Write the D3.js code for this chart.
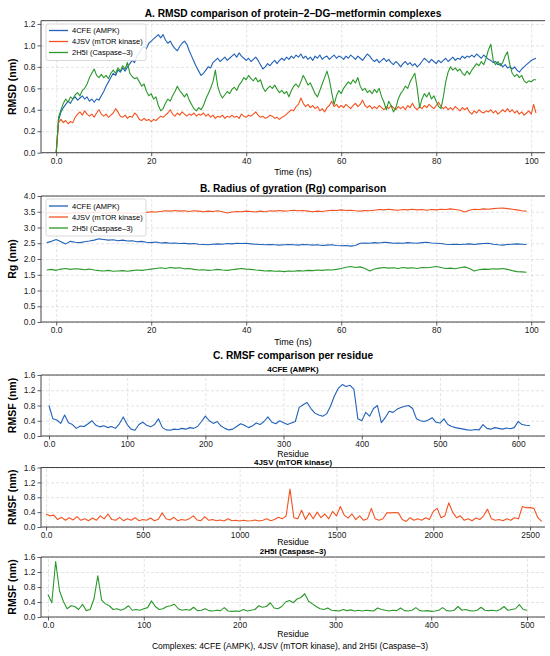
<!DOCTYPE html>
<html>
<head>
<meta charset="utf-8">
<script src="https://cdn.jsdelivr.net/npm/d3@7"></script>
<style>
  body { margin: 0; background: #fff; }
  svg { font-family: "Liberation Sans", Arial, sans-serif; }
  .grid line { stroke: #d2d2d2; stroke-width: 0.6; stroke-dasharray: 3,2; }
  .grid .domain { display: none; }
  .axis .domain { display: none; }
  .axis line { stroke: #333; stroke-width: 0.8; }
  .axis text { fill: #222; }
</style>
</head>
<body>
<div id="chart"></div>
<script>
// series names and colours
var complexNames = ["4CFE (AMPK)", "4JSV (mTOR kinase)", "2H5I (Caspase\u20133)"];
var complexColors = ["#2161b8", "#f4521f", "#2b982b"];

// A. RMSD (nm), one value every 0.5 ns from 0 to 101 ns
var rmsdStep = 0.5;
var rmsdAmpk = [
  0.00,0.30,0.38,0.42,0.45,0.48,0.46,0.50,0.52,0.49,
  0.51,0.53,0.50,0.52,0.48,0.50,0.47,0.50,0.49,0.53,
  0.57,0.62,0.66,0.70,0.74,0.72,0.77,0.75,0.79,0.76,
  0.80,0.83,0.86,0.84,0.90,0.93,0.97,0.99,0.97,1.02,
  1.04,1.06,1.08,1.10,1.07,1.10,1.05,1.02,1.04,1.00,
  0.97,0.95,0.99,1.02,1.04,1.01,0.95,0.90,0.85,0.80,
  0.76,0.72,0.74,0.77,0.80,0.79,0.84,0.86,0.88,0.85,
  0.87,0.89,0.86,0.88,0.90,0.92,0.89,0.93,0.90,0.88,
  0.86,0.88,0.85,0.87,0.89,0.86,0.82,0.78,0.80,0.83,
  0.81,0.84,0.86,0.83,0.86,0.88,0.86,0.89,0.87,0.90,
  0.88,0.91,0.89,0.92,0.88,0.90,0.87,0.89,0.86,0.90,
  0.88,0.91,0.87,0.89,0.90,0.87,0.89,0.91,0.88,0.90,
  0.89,0.87,0.90,0.88,0.91,0.89,0.87,0.90,0.88,0.86,
  0.89,0.92,0.90,0.87,0.85,0.87,0.84,0.86,0.88,0.85,
  0.87,0.84,0.82,0.85,0.83,0.80,0.83,0.85,0.82,0.84,
  0.81,0.83,0.80,0.82,0.85,0.88,0.86,0.84,0.87,0.85,
  0.83,0.86,0.84,0.86,0.88,0.85,0.87,0.89,0.86,0.88,
  0.87,0.90,0.88,0.90,0.89,0.91,0.89,0.92,0.90,0.88,
  0.91,0.89,0.87,0.86,0.84,0.85,0.82,0.83,0.80,0.82,
  0.79,0.80,0.78,0.80,0.77,0.75,0.78,0.80,0.82,0.84,
  0.86,0.87,0.88
];
var rmsdMtor = [
  0.00,0.28,0.31,0.28,0.30,0.27,0.29,0.28,0.33,0.36,
  0.38,0.35,0.39,0.36,0.34,0.36,0.33,0.37,0.40,0.36,
  0.34,0.36,0.33,0.35,0.37,0.41,0.38,0.34,0.33,0.35,
  0.32,0.34,0.33,0.37,0.35,0.31,0.30,0.32,0.30,0.31,
  0.29,0.31,0.30,0.32,0.34,0.33,0.35,0.37,0.40,0.36,
  0.34,0.37,0.35,0.38,0.36,0.34,0.36,0.35,0.37,0.34,
  0.36,0.35,0.37,0.34,0.36,0.33,0.35,0.32,0.34,0.33,
  0.35,0.32,0.34,0.33,0.35,0.33,0.34,0.32,0.36,0.34,
  0.33,0.35,0.34,0.36,0.38,0.35,0.33,0.34,0.32,0.33,
  0.35,0.34,0.32,0.33,0.31,0.33,0.34,0.36,0.38,0.40,
  0.39,0.43,0.45,0.51,0.46,0.43,0.45,0.42,0.44,0.41,
  0.43,0.39,0.41,0.38,0.42,0.44,0.48,0.43,0.45,0.42,
  0.44,0.42,0.45,0.43,0.41,0.44,0.46,0.43,0.45,0.49,
  0.44,0.42,0.44,0.41,0.43,0.41,0.44,0.42,0.40,0.43,
  0.41,0.44,0.42,0.40,0.43,0.41,0.43,0.40,0.44,0.42,
  0.46,0.42,0.40,0.43,0.41,0.44,0.42,0.45,0.43,0.41,
  0.44,0.47,0.43,0.41,0.43,0.40,0.42,0.40,0.43,0.41,
  0.39,0.42,0.40,0.42,0.38,0.36,0.39,0.37,0.40,0.38,
  0.37,0.39,0.38,0.40,0.37,0.39,0.36,0.38,0.40,0.38,
  0.41,0.38,0.40,0.37,0.39,0.36,0.38,0.35,0.37,0.39,
  0.36,0.45,0.37
];
var rmsdCasp = [
  0.00,0.33,0.40,0.46,0.50,0.47,0.52,0.50,0.54,0.56,
  0.53,0.58,0.60,0.64,0.70,0.74,0.78,0.72,0.70,0.73,
  0.70,0.72,0.69,0.74,0.77,0.74,0.79,0.76,0.81,0.78,
  0.84,0.74,0.71,0.69,0.70,0.66,0.62,0.64,0.57,0.53,
  0.55,0.50,0.52,0.44,0.39,0.41,0.46,0.50,0.48,0.53,
  0.57,0.62,0.58,0.55,0.52,0.55,0.49,0.45,0.41,0.39,
  0.42,0.40,0.44,0.50,0.55,0.60,0.66,0.77,0.62,0.55,
  0.51,0.54,0.57,0.55,0.59,0.61,0.58,0.63,0.66,0.70,
  0.68,0.72,0.69,0.67,0.70,0.66,0.68,0.61,0.57,0.60,
  0.62,0.60,0.63,0.59,0.56,0.58,0.55,0.57,0.52,0.58,
  0.62,0.64,0.61,0.66,0.72,0.68,0.63,0.65,0.60,0.55,
  0.52,0.58,0.64,0.70,0.76,0.68,0.56,0.45,0.53,0.58,
  0.55,0.60,0.63,0.66,0.64,0.68,0.65,0.70,0.62,0.58,
  0.60,0.56,0.58,0.55,0.59,0.56,0.60,0.52,0.47,0.40,
  0.48,0.44,0.38,0.42,0.50,0.55,0.58,0.62,0.60,0.66,
  0.70,0.74,0.60,0.42,0.50,0.55,0.52,0.56,0.50,0.53,
  0.48,0.43,0.41,0.52,0.66,0.75,0.80,0.77,0.79,0.76,
  0.78,0.74,0.72,0.76,0.73,0.77,0.80,0.83,0.81,0.85,
  0.82,0.88,0.96,1.01,0.86,0.82,0.85,0.81,0.84,0.90,
  0.94,0.82,0.74,0.71,0.73,0.70,0.72,0.67,0.65,0.67,
  0.66,0.68,0.68
];

// B. Rg (nm), one value per ns from -2 to 99 ns
var rgStart = -2;
var rgAmpk = [
  2.52,2.56,2.62,2.55,2.48,2.56,2.53,2.52,2.55,2.57,
  2.60,2.64,2.62,2.60,2.61,2.58,2.60,2.57,2.58,2.55,
  2.56,2.53,2.52,2.54,2.51,2.52,2.50,2.51,2.49,2.50,
  2.48,2.49,2.47,2.46,2.45,2.47,2.48,2.47,2.49,2.48,
  2.50,2.49,2.50,2.48,2.47,2.46,2.45,2.46,2.45,2.44,
  2.45,2.46,2.45,2.44,2.46,2.45,2.44,2.45,2.43,2.44,
  2.45,2.43,2.42,2.43,2.41,2.43,2.50,2.51,2.50,2.52,
  2.51,2.53,2.52,2.50,2.51,2.50,2.52,2.51,2.50,2.52,
  2.53,2.51,2.50,2.49,2.47,2.46,2.47,2.46,2.47,2.48,
  2.46,2.48,2.49,2.50,2.47,2.45,2.44,2.46,2.47,2.48,
  2.47,2.46
];
var rgMtor = [
  3.46,3.48,3.45,3.47,3.44,3.46,3.48,3.45,3.47,3.46,
  3.48,3.47,3.45,3.47,3.46,3.48,3.46,3.47,3.45,3.43,
  3.45,3.48,3.50,3.49,3.51,3.53,3.52,3.54,3.52,3.53,
  3.51,3.53,3.52,3.50,3.52,3.51,3.53,3.50,3.46,3.49,
  3.51,3.50,3.52,3.51,3.49,3.52,3.50,3.53,3.52,3.54,
  3.52,3.53,3.55,3.53,3.54,3.52,3.50,3.52,3.51,3.53,
  3.55,3.54,3.56,3.54,3.55,3.53,3.52,3.54,3.53,3.55,
  3.57,3.56,3.58,3.56,3.55,3.57,3.56,3.58,3.56,3.57,
  3.55,3.57,3.56,3.58,3.57,3.59,3.57,3.55,3.49,3.55,
  3.58,3.57,3.59,3.58,3.60,3.61,3.62,3.60,3.58,3.56,
  3.53,3.52
];
var rgCasp = [
  1.65,1.67,1.64,1.68,1.70,1.67,1.69,1.68,1.66,1.68,
  1.65,1.63,1.62,1.64,1.61,1.62,1.63,1.61,1.63,1.65,
  1.64,1.66,1.68,1.70,1.72,1.70,1.73,1.71,1.72,1.69,
  1.70,1.67,1.65,1.66,1.64,1.65,1.67,1.65,1.64,1.66,
  1.68,1.70,1.68,1.67,1.65,1.64,1.62,1.63,1.61,1.62,
  1.60,1.62,1.61,1.63,1.62,1.64,1.63,1.65,1.64,1.66,
  1.65,1.67,1.70,1.74,1.76,1.73,1.75,1.70,1.62,1.68,
  1.71,1.73,1.71,1.72,1.70,1.73,1.71,1.72,1.70,1.73,
  1.72,1.74,1.76,1.73,1.70,1.71,1.69,1.72,1.75,1.70,
  1.62,1.66,1.68,1.67,1.69,1.68,1.70,1.67,1.63,1.60,
  1.59,1.58
];

// C. RMSF (nm) per residue
var ampkResStep = 5;
var rmsfAmpk = [
  0.80,0.45,0.42,0.33,0.55,0.35,0.30,0.20,0.26,0.25,
  0.32,0.40,0.28,0.24,0.27,0.22,0.25,0.20,0.32,0.50,
  0.30,0.18,0.15,0.30,0.36,0.28,0.24,0.30,0.45,0.22,
  0.16,0.15,0.18,0.17,0.20,0.18,0.22,0.20,0.25,0.38,
  0.52,0.40,0.33,0.38,0.26,0.20,0.16,0.18,0.25,0.32,
  0.28,0.22,0.26,0.34,0.30,0.38,0.50,0.36,0.32,0.40,
  0.35,0.30,0.34,0.38,0.75,0.82,0.88,0.72,0.60,0.55,
  0.52,0.58,0.78,1.05,1.25,1.35,1.30,1.33,1.22,0.45,
  0.40,0.62,0.52,0.72,0.80,0.35,0.48,0.65,0.62,0.70,
  0.75,0.78,0.80,0.72,0.45,0.40,0.38,0.42,0.48,0.36,
  0.34,0.45,0.30,0.25,0.22,0.20,0.18,0.16,0.15,0.17,
  0.16,0.30,0.20,0.18,0.22,0.20,0.18,0.21,0.19,0.22,
  0.38,0.30,0.28,0.27
];
var mtorResStep = 20;
var rmsfMtor = [
  0.35,0.30,0.32,0.20,0.26,0.18,0.25,0.19,0.28,0.18,
  0.22,0.17,0.24,0.18,0.30,0.22,0.35,0.20,0.18,0.26,
  0.17,0.22,0.18,0.25,0.17,0.20,0.18,0.24,0.17,0.21,
  0.38,0.22,0.19,0.26,0.17,0.20,0.18,0.22,0.30,0.19,
  0.17,0.28,0.18,0.20,0.17,0.19,0.16,0.22,0.17,0.18,
  0.16,0.18,0.16,0.17,0.19,0.16,0.18,0.22,0.17,0.20,
  0.26,0.22,0.30,1.02,0.25,0.22,0.45,0.20,0.38,0.22,
  0.40,0.25,0.35,0.22,0.42,0.30,0.55,0.32,0.24,0.35,
  0.20,0.30,0.18,0.22,0.50,0.22,0.18,0.22,0.38,0.38,
  0.39,0.38,0.20,0.15,0.25,0.18,0.22,0.18,0.25,0.20,
  0.42,0.50,0.25,0.30,0.65,0.40,0.25,0.30,0.18,0.22,
  0.17,0.24,0.20,0.30,0.48,0.22,0.18,0.20,0.17,0.22,
  0.18,0.25,0.22,0.55,0.52,0.52,0.50,0.25,0.15
];
var caspResStep = 4;
var rmsfCasp = [
  0.60,0.38,1.48,0.70,0.42,0.22,0.30,0.28,0.20,0.34,
  0.17,0.20,0.48,1.10,0.45,0.35,0.30,0.20,0.22,0.18,
  0.22,0.30,0.18,0.20,0.18,0.22,0.25,0.43,0.28,0.20,
  0.22,0.28,0.30,0.34,0.22,0.18,0.20,0.18,0.26,0.17,
  0.18,0.22,0.17,0.16,0.18,0.17,0.25,0.16,0.15,0.16,
  0.15,0.20,0.16,0.18,0.20,0.30,0.26,0.28,0.38,0.24,
  0.22,0.28,0.40,0.44,0.38,0.48,0.52,0.62,0.42,0.35,
  0.28,0.22,0.20,0.24,0.18,0.17,0.16,0.20,0.17,0.19,
  0.16,0.18,0.16,0.18,0.17,0.16,0.24,0.20,0.18,0.16,
  0.18,0.17,0.24,0.17,0.16,0.18,0.25,0.17,0.16,0.17,
  0.15,0.16,0.18,0.25,0.17,0.16,0.18,0.28,0.18,0.20,
  0.17,0.16,0.18,0.26,0.18,0.17,0.18,0.16,0.20,0.28,
  0.18,0.20,0.22,0.33,0.20,0.18
];

// tick values
var timeTicks = [0, 20, 40, 60, 80, 100];
var rmsdTicks = [0, 0.2, 0.4, 0.6, 0.8, 1.0, 1.2];
var rgTicks = [0, 0.5, 1.0, 1.5, 2.0, 2.5, 3.0, 3.5, 4.0];
var rmsfTicks = [0, 0.4, 0.8, 1.2, 1.6];

var svgWidth = 550;
var svgHeight = 656;
var plotLeft = 41;
var plotRight = 545;
var midX = (plotLeft + plotRight) / 2;

var svg = d3.select("#chart")
  .append("svg")
  .attr("width", svgWidth)
  .attr("height", svgHeight);

// x values for a series sampled on a regular grid
function grid(values, start, step) {
  return values.map(function(v, i) { return start + i * step; });
}

function drawPanel(p) {
  var x = d3.scaleLinear().domain(p.xDomain).range([plotLeft, plotRight]);
  var y = d3.scaleLinear().domain(p.yDomain).range([p.bottom, p.top]);
  var h = p.bottom - p.top;
  var g = svg.append("g");

  // dashed grid
  g.append("g")
    .attr("class", "grid")
    .attr("transform", `translate(0, ${p.bottom})`)
    .call(d3.axisBottom(x).tickValues(p.xTicks).tickSize(-h).tickFormat(""));
  g.append("g")
    .attr("class", "grid")
    .attr("transform", `translate(${plotLeft}, 0)`)
    .call(d3.axisLeft(y).tickValues(p.yTicks).tickSize(-(plotRight - plotLeft)).tickFormat(""));

  // data lines
  p.series.forEach(function(s) {
    var line = d3.line()
      .x(function(d, i) { return x(s.x[i]); })
      .y(function(d) { return y(d); });
    g.append("path")
      .datum(s.values)
      .attr("fill", "none")
      .attr("stroke", s.color)
      .attr("stroke-width", 1.1)
      .attr("stroke-linejoin", "round")
      .attr("d", line);
  });

  // axes
  g.append("g")
    .attr("class", "axis")
    .attr("transform", `translate(0, ${p.bottom})`)
    .call(d3.axisBottom(x).tickValues(p.xTicks).tickSize(3.5).tickPadding(2)
      .tickFormat(function(d) { return d === 0 ? "0.0" : d; }))
    .attr("font-size", 8.4)
    .attr("font-family", null);
  g.append("g")
    .attr("class", "axis")
    .attr("transform", `translate(${plotLeft}, 0)`)
    .call(d3.axisLeft(y).tickValues(p.yTicks).tickSize(3.5).tickPadding(2)
      .tickFormat(d3.format(".1f")))
    .attr("font-size", 8.4)
    .attr("font-family", null);

  // spines: left, bottom, top
  g.append("path")
    .attr("d", `M${plotRight},${p.top}H${plotLeft}V${p.bottom}H${plotRight}`)
    .attr("fill", "none")
    .attr("stroke", "#444")
    .attr("stroke-width", 1);

  // labels
  g.append("text")
    .attr("transform", `translate(12, ${(p.top + p.bottom) / 2}) rotate(-90)`)
    .attr("text-anchor", "middle")
    .attr("dy", "0.35em")
    .attr("font-size", 10.5)
    .attr("font-weight", "bold")
    .text(p.yLabel);
  g.append("text")
    .attr("x", midX)
    .attr("y", p.xLabelY)
    .attr("text-anchor", "middle")
    .attr("dy", "0.35em")
    .attr("font-size", p.xLabelSize || 9)
    .text(p.xLabel);
  if (p.title) {
    g.append("text")
      .attr("x", midX)
      .attr("y", p.titleY)
      .attr("text-anchor", "middle")
      .attr("dy", "0.35em")
      .attr("font-size", p.titleSize)
      .attr("font-weight", "bold")
      .text(p.title);
  }
  return g;
}

function drawLegend(x0, y0, rowY) {
  var lg = svg.append("g");
  lg.append("rect")
    .attr("x", x0)
    .attr("y", y0)
    .attr("width", 100)
    .attr("height", rowY[2] - y0 + 8)
    .attr("rx", 2)
    .attr("fill", "#fff")
    .attr("fill-opacity", 0.85)
    .attr("stroke", "#cfcfcf")
    .attr("stroke-width", 0.8);
  complexNames.forEach(function(name, i) {
    lg.append("line")
      .attr("x1", x0 + 3).attr("x2", x0 + 22)
      .attr("y1", rowY[i]).attr("y2", rowY[i])
      .attr("stroke", complexColors[i])
      .attr("stroke-width", 1.3);
    lg.append("text")
      .attr("x", x0 + 26)
      .attr("y", rowY[i])
      .attr("dy", "0.35em")
      .attr("font-size", 7.5)
      .text(name);
  });
}

// Panel A
drawPanel({
  top: 20.7, bottom: 152.7,
  xDomain: [-3.2, 102.9], yDomain: [0, 1.23],
  xTicks: timeTicks, yTicks: rmsdTicks,
  series: [
    {values: rmsdAmpk, x: grid(rmsdAmpk, 0, rmsdStep), color: complexColors[0]},
    {values: rmsdMtor, x: grid(rmsdMtor, 0, rmsdStep), color: complexColors[1]},
    {values: rmsdCasp, x: grid(rmsdCasp, 0, rmsdStep), color: complexColors[2]}
  ],
  yLabel: "RMSD (nm)", xLabel: "Time (ns)", xLabelY: 172,
  title: "A. RMSD comparison of protein\u20132\u2013DG\u2013metformin complexes", titleY: 13, titleSize: 10.2
});
drawLegend(46, 24, [30.5, 41.5, 52.5]);

// Panel B
drawPanel({
  top: 196, bottom: 322,
  xDomain: [-3.2, 102.9], yDomain: [0, 4.0],
  xTicks: timeTicks, yTicks: rgTicks,
  series: [
    {values: rgAmpk, x: grid(rgAmpk, rgStart, 1), color: complexColors[0]},
    {values: rgMtor, x: grid(rgMtor, rgStart, 1), color: complexColors[1]},
    {values: rgCasp, x: grid(rgCasp, rgStart, 1), color: complexColors[2]}
  ],
  yLabel: "Rg (nm)", xLabel: "Time (ns)", xLabelY: 342,
  title: "B. Radius of gyration (Rg) comparison", titleY: 188.5, titleSize: 10.2
});
drawLegend(46, 199, [206, 217, 228]);

// Panel C title
svg.append("text")
  .attr("x", midX)
  .attr("y", 355.5)
  .attr("text-anchor", "middle")
  .attr("dy", "0.35em")
  .attr("font-size", 10.2)
  .attr("font-weight", "bold")
  .text("C. RMSF comparison per residue");

var rmsfPanels = [
  {top: 375, bottom: 436, xDomain: [-10.2, 634.3], xTicks: [0, 100, 200, 300, 400, 500, 600],
   values: rmsfAmpk, step: ampkResStep, labelGap: 17.5},
  {top: 467.5, bottom: 527, xDomain: [-26, 2577], xTicks: [0, 500, 1000, 1500, 2000, 2500],
   values: rmsfMtor, step: mtorResStep, labelGap: 15},
  {top: 557, bottom: 617, xDomain: [-7.3, 518.8], xTicks: [0, 100, 200, 300, 400, 500],
   values: rmsfCasp, step: caspResStep, labelGap: 17}
];

rmsfPanels.forEach(function(c, i) {
  drawPanel({
    top: c.top, bottom: c.bottom,
    xDomain: c.xDomain, yDomain: [0, 1.6],
    xTicks: c.xTicks, yTicks: rmsfTicks,
    series: [{values: c.values, x: grid(c.values, 0, c.step), color: complexColors[i]}],
    yLabel: "RMSF (nm)", xLabel: "Residue", xLabelY: c.bottom + c.labelGap, xLabelSize: 8.6
  });
  // subplot title
  svg.append("text")
    .attr("x", midX)
    .attr("y", c.top - 5.5)
    .attr("text-anchor", "middle")
    .attr("dy", "0.35em")
    .attr("font-size", 8)
    .attr("font-weight", "bold")
    .text(complexNames[i]);
});

// caption
svg.append("text")
  .attr("x", 290)
  .attr("y", 646.5)
  .attr("text-anchor", "middle")
  .attr("dy", "0.35em")
  .attr("font-size", 8.5)
  .text("Complexes: 4CFE (AMPK), 4JSV (mTOR kinase), and 2H5I (Caspase\u20133)");
</script>
</body>
</html>
